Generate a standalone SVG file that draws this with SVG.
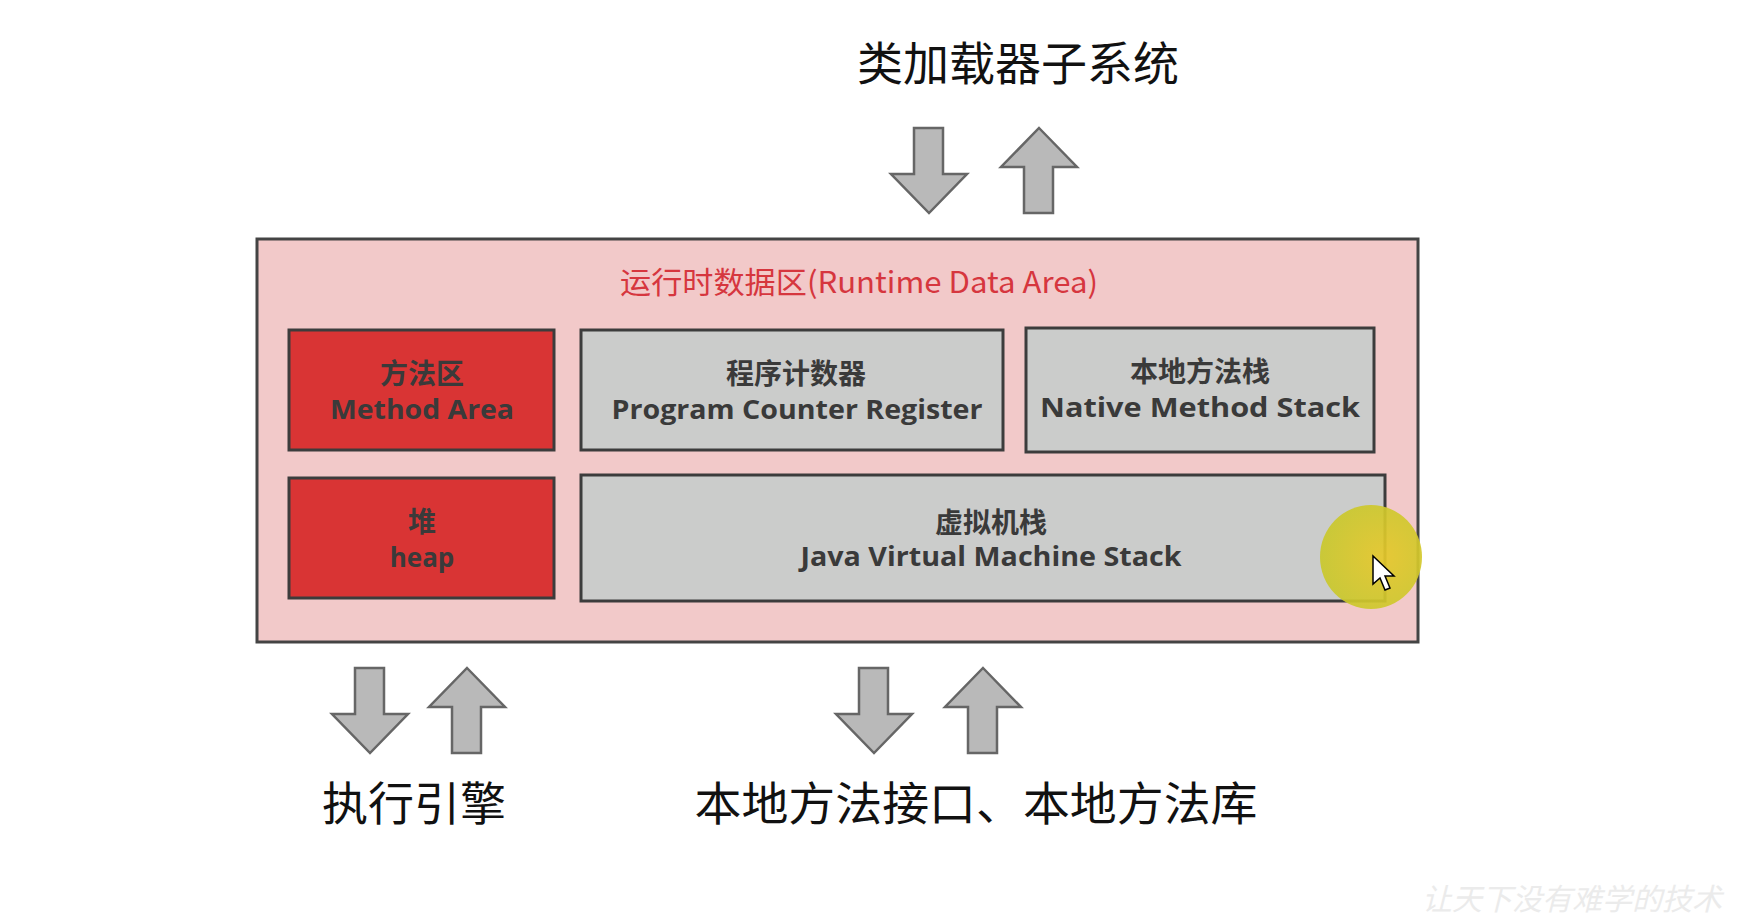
<svg xmlns="http://www.w3.org/2000/svg" width="1752" height="916" viewBox="0 0 1752 916">
<style>
.cn{font-family:"Noto Sans CJK SC","Noto Sans",sans-serif;}
.big{font-size:46px;fill:#111;text-anchor:middle;}
.box{stroke:#3c3c3c;stroke-width:3;}
.red{fill:#d93434;}
.gray{fill:#cbcccb;}
.lbl{font-family:"Open Sans","Noto Sans CJK SC",sans-serif;font-weight:bold;font-size:26px;fill:#3a3a3a;text-anchor:middle;}
.lcn{font-family:"Noto Sans CJK SC",sans-serif;font-weight:bold;font-size:28px;fill:#3a3a3a;text-anchor:middle;}
.arrow{fill:#b9b9b9;stroke:#666;stroke-width:2.5;stroke-linejoin:miter;}
</style>
<defs>
<polygon id="down" points="-15,0 14,0 14,46 38,46 0,85 -38,46 -15,46"/>
<polygon id="up" points="0,0 38,39 14,39 14,85 -15,85 -15,39 -38,39"/>
<radialGradient id="hl" cx="0.6" cy="0.5" r="0.6">
<stop offset="0" stop-color="#e6c82a"/>
<stop offset="1" stop-color="#c9c82c"/>
</radialGradient>
</defs>
<rect width="1752" height="916" fill="#fff"/>

<g id="runtime-data-area">
<rect x="257" y="239" width="1161" height="403" fill="#f2c9c9" stroke="#444" stroke-width="3"/>
<text x="859" y="293" class="cn" font-size="30" fill="#d6363e" text-anchor="middle" textLength="478" lengthAdjust="spacingAndGlyphs">运行时数据区(Runtime Data Area)</text>
</g>

<g id="method-area">
<rect x="289" y="330" width="265" height="120" class="box red"/>
<text x="422" y="384" class="lcn">方法区</text>
<text x="422" y="419" class="lbl" textLength="184" lengthAdjust="spacingAndGlyphs">Method Area</text>
</g>

<g id="pc-register">
<rect x="581" y="330" width="422" height="120" class="box gray"/>
<text x="796" y="384" class="lcn">程序计数器</text>
<text x="797" y="419" class="lbl" textLength="371" lengthAdjust="spacingAndGlyphs">Program Counter Register</text>
</g>

<g id="native-method-stack">
<rect x="1026" y="328" width="348" height="124" class="box gray"/>
<text x="1200" y="382" class="lcn">本地方法栈</text>
<text x="1200" y="417" class="lbl" textLength="320" lengthAdjust="spacingAndGlyphs">Native Method Stack</text>
</g>

<g id="heap">
<rect x="289" y="478" width="265" height="120" class="box red"/>
<text x="422" y="532" class="lcn">堆</text>
<text x="422" y="567" class="lbl">heap</text>
</g>

<g id="jvm-stack">
<rect x="581" y="475" width="804" height="126" class="box gray"/>
<text x="991" y="533" class="lcn">虚拟机栈</text>
<text x="991" y="566" class="lbl" textLength="381" lengthAdjust="spacingAndGlyphs">Java Virtual Machine Stack</text>
</g>

<g id="class-loader">
<text x="1018" y="80" class="cn big">类加载器子系统</text>
</g>
<g id="execution-engine">
<text x="414" y="820" class="cn big">执行引擎</text>
</g>
<g id="native-interface">
<text x="976" y="820" class="cn big" textLength="563" lengthAdjust="spacingAndGlyphs">本地方法接口、本地方法库</text>
</g>

<g id="connectors">
<use href="#down" x="929" y="128" class="arrow"/>
<use href="#up" x="1039" y="128" class="arrow"/>
<use href="#down" x="370" y="668" class="arrow"/>
<use href="#up" x="467" y="668" class="arrow"/>
<use href="#down" x="874" y="668" class="arrow"/>
<use href="#up" x="983" y="668" class="arrow"/>
</g>

<ellipse cx="1371" cy="557" rx="51" ry="52" fill="url(#hl)" opacity="0.92"/>
<polygon points="1373,556 1373,584 1380,578 1385,590 1390,588 1385,576 1394,576" fill="#fff" stroke="#000" stroke-width="1.5"/>
<text x="1722" y="910" class="cn" font-size="30" fill="#ebebeb" text-anchor="end" font-style="italic">让天下没有难学的技术</text>
</svg>
